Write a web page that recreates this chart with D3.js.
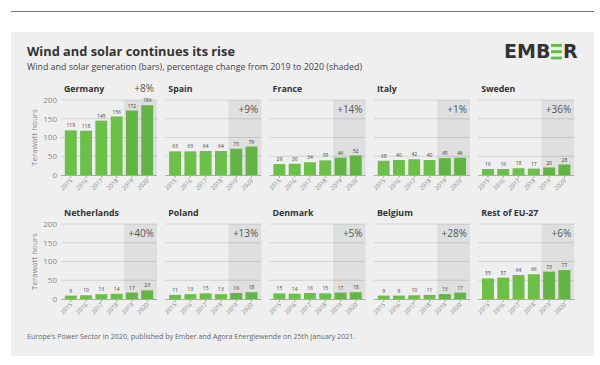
<!DOCTYPE html>
<html><head><meta charset="utf-8">
<script src="https://cdn.jsdelivr.net/npm/d3@7"></script>
<style>body{margin:0;background:#fff}svg{display:block}</style>
</head><body>
<script>
const years = ["2015","2016","2017","2018","2019","2020"];
const countries = ["Germany","Spain","France","Italy","Sweden","Netherlands","Poland","Denmark","Belgium","Rest of EU-27"];
const germany = [119,118,145,156,172,186];
const spain = [63,63,64,64,70,76];
const france = [29,30,34,39,46,52];
const italy = [38,40,42,40,45,46];
const sweden = [16,16,18,17,20,28];
const netherlands = [9,10,13,14,17,23];
const poland = [11,13,15,13,16,18];
const denmark = [15,14,16,15,17,18];
const belgium = [9,9,10,11,13,17];
const restEU = [55,57,64,66,73,77];
const changes = ["+8%","+9%","+14%","+1%","+36%","+40%","+13%","+5%","+28%","+6%"];
const yTicks = [0,50,100,150,200];
const seriesList = [germany,spain,france,italy,sweden,netherlands,poland,denmark,belgium,restEU];

const W=600,H=365;
const svg=d3.select("body").append("svg").attr("width",W).attr("height",H);
const font="'Source Sans Pro','Open Sans','Noto Sans',sans-serif";
svg.append("rect").attr("x",11).attr("y",32).attr("width",583).attr("height",324).attr("fill","#efefef");
svg.append("line").attr("x1",11).attr("x2",594).attr("y1",11.5).attr("y2",11.5).attr("stroke","#777").attr("stroke-width",1);

svg.append("text").attr("x",27).attr("y",56).attr("font-family",font).attr("font-weight","bold").attr("font-size",12.8).attr("fill","#333").text("Wind and solar continues its rise");
svg.append("text").attr("x",27).attr("y",70).attr("font-family",font).attr("font-size",8.9).attr("fill","#444").text("Wind and solar generation (bars), percentage change from 2019 to 2020 (shaded)");

// logo
const logo=svg.append("g").attr("transform","translate(504,58)");
logo.append("text").attr("x",0).attr("y",0).attr("font-family","'DejaVu Sans',sans-serif").attr("font-weight","bold").attr("font-size",19).attr("fill","#333").text("EMB");
[0,6.3,12.6].forEach(dy=>logo.append("rect").attr("x",47).attr("y",-14+dy).attr("width",11).attr("height",2.8).attr("fill","#5fbf3f"));
logo.append("text").attr("x",59).attr("y",0).attr("font-family","'DejaVu Sans',sans-serif").attr("font-weight","bold").attr("font-size",19).attr("fill","#333").text("R");

svg.append("text").attr("x",27).attr("y",339).attr("font-family",font).attr("font-size",7.1).attr("fill","#666").text("Europe’s Power Sector in 2020, published by Ember and Agora Energiewende on 25th January 2021.");

const plotW=96, rowTops=[100,224], plotH=75;
const y=d3.scaleLinear().domain([0,200]).range([plotH,0]);
const x=d3.scaleBand().domain(years).range([0,plotW]).paddingInner(0.22).paddingOuter(0.25);

seriesList.forEach((vals,i)=>{
  const col=i%5,row=Math.floor(i/5);
  const x0=61+col*104.3, y0=rowTops[row];
  const g=svg.append("g").attr("transform",`translate(${x0},${y0})`);
  g.append("text").attr("x",3).attr("y",-8).attr("font-family",font).attr("font-weight","bold").attr("font-size",8.8).attr("fill","#333").text(countries[i]);
  g.selectAll(".grid").data(yTicks.slice(1)).join("line").attr("x1",0).attr("x2",plotW).attr("y1",d=>y(d)).attr("y2",d=>y(d)).attr("stroke","#d2d2d2").attr("stroke-width",1);
  g.selectAll(".bar").data(vals).join("rect").attr("x",(d,j)=>x(years[j])).attr("width",x.bandwidth()).attr("y",d=>y(d)).attr("height",d=>plotH-y(d)).attr("fill","#6cc04a");
  g.selectAll(".lbl").data(vals).join("text").attr("x",(d,j)=>x(years[j])+x.bandwidth()/2).attr("y",d=>y(d)-3).attr("text-anchor","middle").attr("font-family",font).attr("font-size",5).attr("fill","#444").text(d=>d);
  const sx=x("2019")-x.step()*x.paddingInner()/2;
  g.append("rect").attr("x",sx).attr("y",0).attr("width",plotW-sx).attr("height",plotH).attr("fill","#000").attr("opacity",0.065);
  g.append("line").attr("x1",0).attr("x2",plotW).attr("y1",plotH+0.5).attr("y2",plotH+0.5).attr("stroke","#aaa");
  g.selectAll(".tk").data(years).join("line").attr("x1",d=>x(d)+x.bandwidth()/2).attr("x2",d=>x(d)+x.bandwidth()/2).attr("y1",plotH).attr("y2",plotH+3).attr("stroke","#aaa");
  g.selectAll(".yr").data(years).join("text").attr("transform",d=>`translate(${x(d)+x.bandwidth()/2+2},${plotH+6}) rotate(-45)`).attr("text-anchor","end").attr("font-family",font).attr("font-size",6).attr("fill","#888").text(d=>d);
  const topY = (i===0)? -8 : 13;
  g.append("text").attr("x",plotW-3).attr("y",topY).attr("text-anchor","end").attr("font-family",font).attr("font-size",10).attr("fill","#555").text(changes[i]);
  if(col===0){
    g.selectAll(".yt").data(yTicks).join("text").attr("x",-4).attr("y",d=>y(d)).attr("dy","0.35em").attr("text-anchor","end").attr("font-family",font).attr("font-size",8).attr("fill","#888").text(d=>d);
    g.append("text").attr("transform",`translate(-24,${plotH/2}) rotate(-90)`).attr("text-anchor","middle").attr("font-family",font).attr("font-size",8).attr("fill","#888").text("Terawatt hours");
  }
});
</script>
</body></html>
